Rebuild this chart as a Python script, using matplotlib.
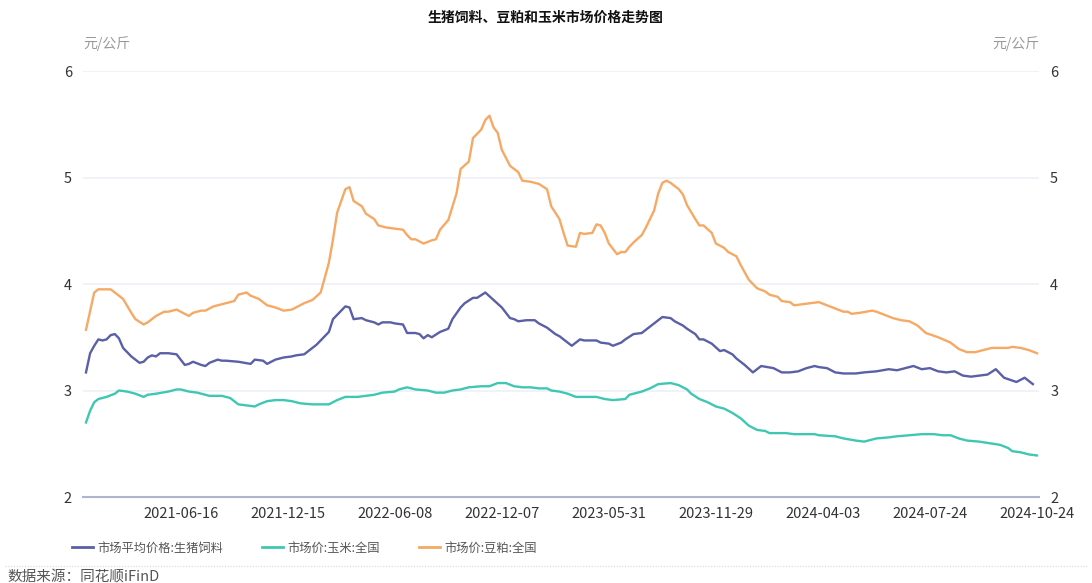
import matplotlib
matplotlib.use('Agg')
import matplotlib.pyplot as plt
from matplotlib.lines import Line2D

plt.rcParams['font.family'] = ['Noto Sans CJK SC', 'DejaVu Sans']

# 类目轴: 共 232 个观测点, 标签每 26 个显示一次
n_points = 232
tick_idx = [23, 49, 75, 101, 127, 153, 179, 205, 231]
tick_labels = ['2021-06-16', '2021-12-15', '2022-06-08', '2022-12-07', '2023-05-31',
               '2023-11-29', '2024-04-03', '2024-07-24', '2024-10-24']

# 市场平均价格:生猪饲料
feed_idx = [0, 1, 2, 3, 4, 5, 6, 7, 8, 9, 11, 12, 13, 14, 15, 16, 17, 18, 20, 22, 23, 24, 25, 26,
            28, 29, 30, 32, 33, 34, 37, 40, 41, 43, 44, 46, 48, 50, 51, 53, 54, 56, 58, 59, 60, 62,
            63, 64, 65, 67, 68, 70, 71, 72, 74, 75, 77, 78, 80, 81, 82, 83, 84, 86, 88, 89, 91, 92,
            94, 95, 97, 99, 101, 103, 104, 105, 107, 109, 110, 112, 114, 115, 117, 118, 119, 120,
            121, 124, 125, 127, 128, 130, 131, 133, 135, 136, 137, 139, 140, 142, 143, 145, 146,
            148, 149, 150, 152, 154, 155, 157, 158, 160, 162, 164, 167, 169, 171, 173, 175, 177,
            178, 180, 182, 184, 187, 189, 192, 195, 197, 199, 201, 203, 205, 207, 209, 211, 213,
            215, 219, 221, 223, 226, 228, 230]
feed_val = [3.17, 3.35, 3.42, 3.48, 3.47, 3.48, 3.52, 3.53, 3.49, 3.40, 3.32, 3.29, 3.26, 3.27,
            3.31, 3.33, 3.32, 3.35, 3.35, 3.34, 3.29, 3.24, 3.25, 3.27, 3.24, 3.23, 3.26, 3.29,
            3.28, 3.28, 3.27, 3.25, 3.29, 3.28, 3.25, 3.29, 3.31, 3.32, 3.33, 3.34, 3.37, 3.43,
            3.51, 3.55, 3.67, 3.75, 3.79, 3.78, 3.67, 3.68, 3.66, 3.64, 3.62, 3.64, 3.64, 3.63,
            3.62, 3.54, 3.54, 3.53, 3.49, 3.52, 3.50, 3.55, 3.58, 3.67, 3.78, 3.82, 3.87, 3.87,
            3.92, 3.85, 3.78, 3.68, 3.67, 3.65, 3.66, 3.66, 3.63, 3.59, 3.53, 3.51, 3.45, 3.42,
            3.45, 3.48, 3.47, 3.47, 3.45, 3.44, 3.42, 3.45, 3.48, 3.53, 3.54, 3.57, 3.60, 3.66,
            3.69, 3.68, 3.65, 3.61, 3.58, 3.53, 3.48, 3.48, 3.44, 3.37, 3.38, 3.34, 3.30, 3.24,
            3.17, 3.23, 3.21, 3.17, 3.17, 3.18, 3.21, 3.23, 3.22, 3.21, 3.17, 3.16, 3.16, 3.17,
            3.18, 3.20, 3.19, 3.21, 3.23, 3.20, 3.21, 3.18, 3.17, 3.18, 3.14, 3.13, 3.15, 3.20,
            3.12, 3.08, 3.12, 3.06]

# 市场价:玉米:全国
corn_idx = [0, 1, 2, 3, 5, 7, 8, 10, 12, 14, 15, 17, 20, 22, 23, 25, 27, 28, 30, 33, 35, 37, 39,
            41, 42, 44, 46, 48, 50, 52, 55, 59, 61, 63, 66, 68, 70, 72, 75, 76, 78, 80, 83, 85, 87,
            89, 91, 93, 96, 98, 100, 102, 104, 106, 108, 110, 112, 113, 115, 117, 119, 121, 124,
            126, 128, 131, 132, 135, 137, 139, 142, 144, 146, 147, 149, 151, 153, 155, 157, 159,
            161, 163, 165, 166, 170, 172, 177, 178, 182, 184, 187, 189, 192, 195, 197, 200, 203,
            206, 208, 210, 212, 214, 217, 222, 224, 225, 227, 229, 231]
corn_val = [2.70, 2.81, 2.89, 2.92, 2.94, 2.97, 3.00, 2.99, 2.97, 2.94, 2.96, 2.97, 2.99, 3.01,
            3.01, 2.99, 2.98, 2.97, 2.95, 2.95, 2.93, 2.87, 2.86, 2.85, 2.87, 2.90, 2.91, 2.91,
            2.90, 2.88, 2.87, 2.87, 2.91, 2.94, 2.94, 2.95, 2.96, 2.98, 2.99, 3.01, 3.03, 3.01,
            3.00, 2.98, 2.98, 3.00, 3.01, 3.03, 3.04, 3.04, 3.07, 3.07, 3.04, 3.03, 3.03, 3.02,
            3.02, 3.00, 2.99, 2.97, 2.94, 2.94, 2.94, 2.92, 2.91, 2.92, 2.96, 2.99, 3.02, 3.06,
            3.07, 3.05, 3.01, 2.97, 2.92, 2.89, 2.85, 2.83, 2.79, 2.74, 2.67, 2.63, 2.62, 2.60,
            2.60, 2.59, 2.59, 2.58, 2.57, 2.55, 2.53, 2.52, 2.55, 2.56, 2.57, 2.58, 2.59, 2.59,
            2.58, 2.58, 2.55, 2.53, 2.52, 2.49, 2.46, 2.43, 2.42, 2.40, 2.39]

# 市场价:豆粕:全国
meal_idx = [0, 2, 3, 6, 7, 9, 11, 12, 14, 15, 16, 17, 19, 20, 22, 23, 25, 26, 28, 29, 31, 33, 34,
            36, 37, 39, 40, 42, 44, 46, 48, 50, 51, 53, 55, 57, 59, 60, 61, 63, 64, 65, 67, 68, 70,
            71, 73, 75, 77, 78, 79, 80, 82, 84, 85, 86, 88, 90, 91, 93, 94, 96, 97, 98, 99, 100,
            101, 103, 105, 106, 108, 110, 112, 113, 115, 116, 117, 119, 120, 121, 123, 124, 125,
            126, 127, 129, 130, 131, 132, 133, 135, 136, 138, 139, 140, 141, 142, 144, 145, 146,
            148, 149, 150, 152, 153, 155, 156, 158, 159, 161, 163, 165, 166, 168, 169, 171, 172,
            174, 176, 178, 180, 182, 184, 185, 186, 188, 191, 192, 194, 196, 198, 200, 202, 204,
            207, 210, 212, 214, 216, 218, 220, 224, 225, 227, 229, 231]
meal_val = [3.57, 3.92, 3.95, 3.95, 3.92, 3.86, 3.73, 3.67, 3.62, 3.64, 3.67, 3.70, 3.74, 3.74,
            3.76, 3.74, 3.70, 3.73, 3.75, 3.75, 3.79, 3.81, 3.82, 3.84, 3.90, 3.92, 3.89, 3.86,
            3.80, 3.78, 3.75, 3.76, 3.78, 3.82, 3.85, 3.92, 4.20, 4.42, 4.67, 4.89, 4.91, 4.78,
            4.73, 4.66, 4.61, 4.55, 4.53, 4.52, 4.51, 4.46, 4.42, 4.42, 4.38, 4.41, 4.42, 4.51,
            4.60, 4.85, 5.08, 5.15, 5.37, 5.45, 5.54, 5.58, 5.47, 5.42, 5.26, 5.11, 5.05, 4.97,
            4.96, 4.94, 4.89, 4.73, 4.61, 4.48, 4.36, 4.35, 4.48, 4.47, 4.48, 4.56, 4.55, 4.48,
            4.38, 4.28, 4.30, 4.30, 4.35, 4.39, 4.46, 4.53, 4.69, 4.85, 4.95, 4.97, 4.95, 4.89,
            4.84, 4.74, 4.61, 4.55, 4.55, 4.48, 4.38, 4.34, 4.30, 4.26, 4.18, 4.04, 3.96, 3.93,
            3.90, 3.88, 3.84, 3.83, 3.80, 3.81, 3.82, 3.83, 3.80, 3.77, 3.74, 3.74, 3.72, 3.73,
            3.75, 3.74, 3.71, 3.68, 3.66, 3.65, 3.61, 3.54, 3.50, 3.45, 3.39, 3.36, 3.36, 3.38,
            3.40, 3.40, 3.41, 3.40, 3.38, 3.35]

series = [
    ('市场平均价格:生猪饲料', feed_idx, feed_val, '#5a5fa6'),
    ('市场价:玉米:全国', corn_idx, corn_val, '#3fc7b4'),
    ('市场价:豆粕:全国', meal_idx, meal_val, '#f6a965'),
]

fig = plt.figure(figsize=(10.92, 5.83), dpi=100)
ax = fig.add_axes([0.076, 0.1475, 0.8755, 0.7307])

for name, xi, yv, c in series:
    ax.plot(xi, yv, color=c, lw=1.7, label=name, solid_joinstyle='round')

ax.set_xlim(-0.73, n_points - 0.5)
ax.set_ylim(2, 6)
ax.set_yticks([2, 3, 4, 5, 6])
ax.set_xticks(tick_idx)
ax.set_xticklabels(tick_labels)
ax.grid(axis='y', color='#eef0f6', lw=1.2)
ax.set_axisbelow(True)
for s in ['top', 'left', 'right']:
    ax.spines[s].set_visible(False)
ax.spines['bottom'].set_color('#aeb6cf')
ax.spines['bottom'].set_linewidth(1.5)
ax.tick_params(axis='x', length=0, pad=7, labelsize=10.5, labelcolor='#333333')
ax.tick_params(axis='y', length=0, pad=8, labelsize=10.5, labelcolor='#333333',
               labelright=True)

fig.text(0.5, 0.969, '生猪饲料、豆粕和玉米市场价格走势图', ha='center', va='center',
         fontsize=10, fontweight='bold', color='#111111')
fig.text(0.076, 0.926, '元/公斤', ha='left', va='center', fontsize=10, color='#999999')
fig.text(0.952, 0.926, '元/公斤', ha='right', va='center', fontsize=10, color='#999999')

handles = [Line2D([], [], color=c, lw=2) for _, _, _, c in series]
fig.legend(handles, [s[0] for s in series], loc='center left', bbox_to_anchor=(0.056, 0.06),
           ncol=3, frameon=False, fontsize=8.8, handlelength=1.7, handletextpad=0.35,
           columnspacing=3.2, labelcolor='#555555')

fig.add_artist(Line2D([0.005, 0.995], [0.029, 0.029], color='#d8d8d8', lw=0.8,
                      ls=(0, (1, 1.5)), transform=fig.transFigure))
fig.text(0.007, 0.01, '数据来源：同花顺iFinD', ha='left', va='center', fontsize=10.5,
         color='#555555')

fig.savefig('out.png', dpi=100)
